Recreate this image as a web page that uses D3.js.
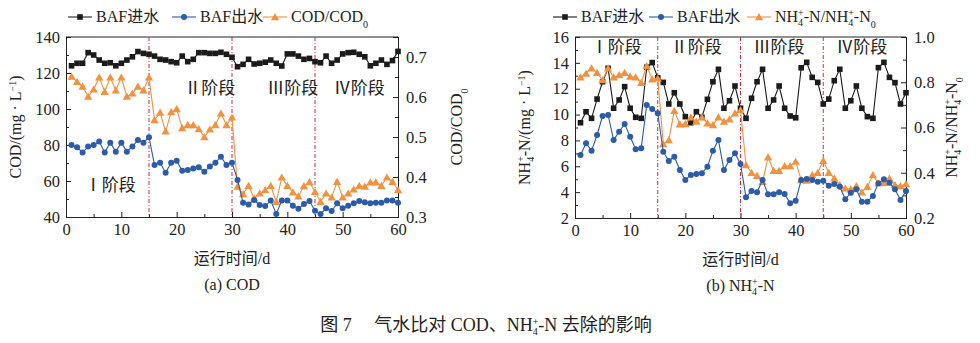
<!DOCTYPE html>
<html><head><meta charset="utf-8">
<script src="https://cdn.jsdelivr.net/npm/d3@7"></script>
<style>
body{margin:0;background:#fff;}
text{font-family:"Liberation Serif","Noto Sans CJK SC",serif;fill:#222;}
</style></head><body>
<svg id="chart" width="980" height="343"></svg>
<script>
const days = d3.range(1, 61);
const stageBounds = [15, 30, 45];
// Panel (a) COD
const codIn = [124,125.4,125.4,131.3,130,127.2,125.4,125.7,124,125.4,127.2,129,131.9,130.9,130.4,
129.4,127.6,127.2,126.3,125.7,129.4,126.3,127.6,131.3,131.3,130.9,130.9,131.5,130.4,128.7,
123.5,124.8,127.6,125,125.4,126,127.2,125.4,123.9,130.6,130.6,129.4,127.6,128.1,126.3,
125.7,129.4,125.4,127.2,130.6,131.3,131.5,130.4,129,124,125.4,127.2,124.8,126.9,132];
const codOut = [80,78.7,75.9,79.1,80,81.9,75.9,81.3,76.3,81.3,76.3,79.1,82.8,81.3,84.3,
68.9,70.2,64.6,70.2,71.3,65.7,66.1,67,67.6,65.2,68,70.2,73.5,68.9,70.2,
60.6,47.9,47,49.4,46.7,46.1,49.1,41.7,49.1,49.1,46.3,44.6,47.2,48.9,43.5,
41.7,44.8,43.3,47.6,44.8,46.3,47.6,48.9,48.2,47.6,47.9,47.9,49.1,49.1,47.9];
const codRatio = [0.651,0.638,0.626,0.601,0.619,0.649,0.613,0.649,0.617,0.649,0.601,0.609,0.626,0.617,0.649,
0.5425,0.561,0.514,0.5625,0.57,0.5225,0.53,0.53,0.52,0.5,0.519,0.53,0.559,0.53,0.549,
0.376,0.3575,0.378,0.347,0.359,0.3675,0.378,0.338,0.399,0.378,0.362,0.352,0.3775,0.3875,0.363,
0.338,0.359,0.349,0.388,0.349,0.359,0.369,0.378,0.376,0.387,0.387,0.378,0.399,0.388,0.3675];
// Panel (b) NH4+-N
const nhIn = [9.37,10.22,9.71,11.2,12.54,13.58,10.49,11.13,12.16,10.49,9.79,9.71,13.66,14.02,12.85,
12.49,10.82,11.69,10.82,9.84,9.37,10.22,9.79,11.18,12.54,13.5,10.49,11.07,12.21,10.49,
9.71,11.26,12.54,13.5,10.49,11.13,12.21,10.49,9.89,9.75,13.62,14.04,12.88,12.49,10.82,
11.2,12.62,13.5,10.49,11.07,12.21,10.49,9.84,9.71,13.63,14.04,12.88,12.47,10.82,11.69];
const nhOut = [6.87,7.78,7.21,8.42,9.89,9.97,8.03,8.68,9.27,8.29,7.31,7.39,10.74,10.43,10.1,
7.13,6.41,6.74,5.71,4.94,5.33,5.4,5.46,5.97,7.21,8.03,5.71,6.49,7.0,6.18,
3.6,4.09,3.99,4.94,3.83,3.83,3.99,3.86,3.14,3.34,4.94,5.02,4.94,4.81,4.89,
4.5,4.63,4.42,3.45,3.96,4.22,3.26,3.26,3.7,4.68,4.99,4.73,4.22,3.39,4.09];
const nhRatio = [0.822,0.839,0.862,0.842,0.81,0.862,0.822,0.832,0.842,0.825,0.822,0.798,0.872,0.813,0.817,
0.527,0.545,0.674,0.614,0.615,0.645,0.626,0.645,0.619,0.611,0.645,0.626,0.636,0.663,0.677,
0.434,0.4,0.387,0.36,0.468,0.409,0.409,0.43,0.43,0.449,0.368,0.365,0.39,0.4,0.453,
0.4,0.375,0.346,0.331,0.327,0.341,0.314,0.338,0.39,0.353,0.356,0.375,0.346,0.341,0.35];
const xTicks = [0,10,20,30,40,50,60];
const codTicks = [40,60,80,100,120,140];
const codRatioTicks = [0.3,0.4,0.5,0.6,0.7];
const nhTicks = [2,4,6,8,10,12,14,16];
const nhRatioTicks = [0.2,0.4,0.6,0.8,1.0];
const stages = ["Ⅰ阶段","Ⅱ阶段","Ⅲ阶段","Ⅳ阶段"];

const COL = {in:"#1b1b1b", out:"#2c5ba8", ratio:"#f2913f", dash:"#d42a3a"};
const svg = d3.select("#chart");

function drawPanel(o){
  const g = svg.append("g");
  const x = d3.scaleLinear().domain([0,60]).range([o.x0,o.x1]);
  const yL = d3.scaleLinear().domain(o.yLdom).range([o.y1,o.y0]);
  const yR = d3.scaleLinear().domain(o.yRdom).range([o.y1,o.y0]);
  g.append("g").attr("transform",`translate(0,${o.y1})`)
    .call(d3.axisBottom(x).tickValues(xTicks).tickSize(-5).tickPadding(6).tickFormat(d3.format("d")));
  g.append("g").attr("transform",`translate(0,${o.y1})`)
    .call(d3.axisBottom(x).tickValues(d3.range(5,60,10)).tickSize(-3).tickFormat(""));
  g.append("g").attr("transform",`translate(${o.x0},0)`)
    .call(d3.axisLeft(yL).tickValues(o.yLticks).tickSize(-5).tickPadding(6).tickFormat(d3.format("d")));
  g.append("g").attr("transform",`translate(${o.x0},0)`)
    .call(d3.axisLeft(yL).tickValues(o.yLminor).tickSize(-3).tickFormat(""));
  g.append("g").attr("transform",`translate(${o.x1},0)`)
    .call(d3.axisRight(yR).tickValues(o.yRticks).tickSize(-5).tickPadding(8).tickFormat(d3.format(".1f")));
  g.append("g").attr("transform",`translate(${o.x1},0)`)
    .call(d3.axisRight(yR).tickValues(o.yRminor).tickSize(-3).tickFormat(""));
  g.append("line").attr("x1",o.x0).attr("x2",o.x1).attr("y1",o.y0).attr("y2",o.y0).attr("stroke","#222");
  g.selectAll(".domain").attr("stroke","#222");
  g.selectAll(".tick line").attr("stroke","#222");
  g.selectAll(".tick text").style("font-size","16.5px").style("font-family","Liberation Serif").attr("fill","#222");
  stageBounds.forEach(b=>{
    g.append("line").attr("x1",x(b)).attr("x2",x(b)).attr("y1",o.y0).attr("y2",o.y1)
     .attr("stroke",COL.dash).attr("stroke-width",1).attr("stroke-dasharray","4,2,1,2");
  });
  o.stagePos.forEach((p,i)=>{
    g.append("text").attr("x",x(p[0])).attr("y",p[1]).attr("text-anchor","middle")
     .style("font-size","17px").text(stages[i]);
  });
  const series = [
    {v:o.inV, s:yL, c:COL.in, m:"sq"},
    {v:o.ratioV, s:yR, c:COL.ratio, m:"tri"},
    {v:o.outV, s:yL, c:COL.out, m:"ci"}
  ];
  series.forEach(se=>{
    const line = d3.line().x((d,i)=>x(days[i])).y(d=>se.s(d));
    g.append("path").datum(se.v).attr("d",line).attr("fill","none").attr("stroke",se.c).attr("stroke-width",1.1);
    drawMarkers(g, se.v.map((d,i)=>[x(days[i]),se.s(d)]), se.m, se.c);
  });
  g.append("text").attr("transform",`translate(${o.x0-45},${(o.y0+o.y1)/2}) rotate(-90)`)
    .attr("text-anchor","middle").style("font-size","16px").call(o.leftTitle);
  g.append("text").attr("transform",`translate(${o.x1+o.rtOff},${(o.y0+o.y1)/2}) rotate(-90)`)
    .attr("text-anchor","middle").style("font-size","16px").call(o.rightTitle);
  g.append("text").attr("x",(o.x0+o.x1)/2).attr("y",o.y1+47).attr("text-anchor","middle")
    .style("font-size","16px").text("运行时间/d");
  g.append("text").attr("x",(o.x0+o.x1)/2).attr("y",o.y1+73).attr("text-anchor","middle")
    .style("font-size","16px").call(o.sub);
  const legItems = [
    {x:o.leg[0], c:COL.in, m:"sq", t:s=>s.text("BAF进水")},
    {x:o.leg[1], c:COL.out, m:"ci", t:s=>s.text("BAF出水")},
    {x:o.leg[2], c:COL.ratio, m:"tri", t:o.legRatio}
  ];
  legItems.forEach(l=>{
    const ly = 17;
    g.append("line").attr("x1",l.x).attr("x2",l.x+24).attr("y1",ly).attr("y2",ly).attr("stroke",l.c).attr("stroke-width",1.1);
    drawMarkers(g,[[l.x+12,ly]],l.m,l.c);
    g.append("text").attr("x",l.x+28).attr("y",ly+5).style("font-size","16px").call(l.t);
  });
}
function drawMarkers(g, pts, m, c){
  pts.forEach(p=>{
    if(m==="sq") g.append("rect").attr("x",p[0]-2.8).attr("y",p[1]-2.8).attr("width",5.6).attr("height",5.6).attr("fill",c);
    else if(m==="ci") g.append("circle").attr("cx",p[0]).attr("cy",p[1]).attr("r",3).attr("fill",c);
    else g.append("path").attr("d",d3.symbol(d3.symbolTriangle,30)()).attr("transform",`translate(${p[0]},${p[1]+0.8})`).attr("fill",c);
  });
}
// parts: [text, kind]; "ion" = stacked subscript 4 with superscript +
function t(sel, parts){
  let carry = 0;
  parts.forEach(p=>{
    if(p[1]==="ion"){
      sel.append("tspan").text("4").attr("dy",4+carry).style("font-size","10px");
      sel.append("tspan").text("+").attr("dx",-5).attr("dy",-10).style("font-size","10px");
      carry = 6;
      return;
    }
    const ts = sel.append("tspan").text(p[0]);
    if(carry){ ts.attr("dy",carry); carry = 0; }
    if(p[1]==="sup") ts.attr("baseline-shift","super").style("font-size","10px");
    if(p[1]==="sub") ts.attr("baseline-shift","sub").style("font-size","10px");
  });
}

drawPanel({
  x0:66, x1:398, y0:37, y1:217,
  yLdom:[40,140], yRdom:[0.3,0.75],
  yLticks:codTicks, yLminor:d3.range(50,140,20),
  yRticks:codRatioTicks, yRminor:[0.35,0.45,0.55,0.65,0.75],
  inV:codIn, outV:codOut, ratioV:codRatio,
  stagePos:[[8,191],[26,94],[41,94],[53,94]],
  rtOff:64,
  leftTitle:s=>t(s,[["COD/(mg · L"],["−1","sup"],[")"]]),
  rightTitle:s=>t(s,[["COD/COD"],["0","sub"]]),
  sub:s=>s.text("(a) COD"),
  leg:[68,172,263],
  legRatio:s=>t(s,[["COD/COD"],["0","sub"]])
});
drawPanel({
  x0:575, x1:906, y0:37, y1:218,
  yLdom:[2,16], yRdom:[0.2,1.0],
  yLticks:nhTicks, yLminor:d3.range(3,16,2),
  yRticks:nhRatioTicks, yRminor:[0.3,0.5,0.7,0.9],
  inV:nhIn, outV:nhOut, ratioV:nhRatio,
  stagePos:[[7.5,53],[22,53],[37,53],[52,53]],
  rtOff:51,
  leftTitle:s=>t(s,[["NH"],["","ion"],["-N/(mg · L"],["−1","sup"],[")"]]),
  rightTitle:s=>t(s,[["NH"],["","ion"],["-N/NH"],["","ion"],["-N"],["0","sub"]]),
  sub:s=>t(s,[["(b) NH"],["","ion"],["-N"]]),
  leg:[553,649,747],
  legRatio:s=>t(s,[["NH"],["","ion"],["-N/NH"],["","ion"],["-N"],["0","sub"]])
});
const cap = svg.append("text").attr("x",486).attr("y",331).attr("text-anchor","middle").style("font-size","18px");
t(cap,[["图 7　 气水比对 COD、NH"],["","ion"],["-N 去除的影响"]]);
</script>
</body></html>
